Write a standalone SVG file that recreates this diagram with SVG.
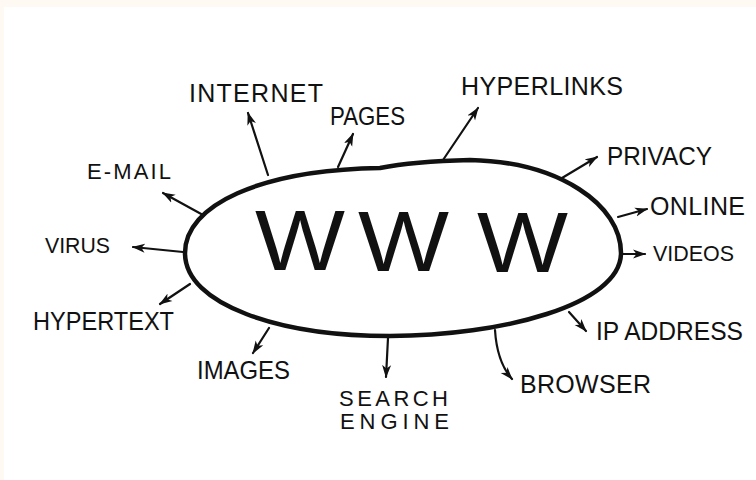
<svg xmlns="http://www.w3.org/2000/svg" width="756" height="480" viewBox="0 0 756 480">
  <style>
    .lbl { font-family: "Liberation Sans", Arial, sans-serif; font-size: 25px; fill: #111; }
    .sm { font-size: 22px; }
    .big { font-family: "Liberation Sans", Arial, sans-serif; font-size: 86px; fill: #111; }
    .conn { fill: none; stroke: #111; stroke-width: 2.2; stroke-linecap: round; }
    .oval { fill: #fff; stroke: #111; stroke-width: 4.5; stroke-linejoin: round; }
  </style>
  <defs>
    <marker id="ah" viewBox="0 0 13 10" refX="12" refY="5" markerWidth="13" markerHeight="10" markerUnits="userSpaceOnUse" orient="auto">
      <path d="M0,0.5 L13,5 L0,9.5 L3.5,5 Z" fill="#111"/>
    </marker>
  </defs>
  <rect x="0" y="0" width="756" height="480" fill="#fff"/>
  <rect x="0" y="0" width="756" height="7" fill="#fff9f3"/>
  <rect x="0" y="0" width="4" height="480" fill="#fff9f3"/>

  <g id="connectors">
    <path class="conn" d="M268,175 L248,113" marker-end="url(#ah)"/>
    <path class="conn" d="M338,167 L353,134" marker-end="url(#ah)"/>
    <path class="conn" d="M443,160 L478,108" marker-end="url(#ah)"/>
    <path class="conn" d="M562,178 L597,157" marker-end="url(#ah)"/>
    <path class="conn" d="M618,217 L647,209" marker-end="url(#ah)"/>
    <path class="conn" d="M622,254 L645,254" marker-end="url(#ah)"/>
    <path class="conn" d="M569,312 L586,331" marker-end="url(#ah)"/>
    <path class="conn" d="M495,330 Q497,362 512,379" marker-end="url(#ah)"/>
    <path class="conn" d="M388,338 L386,377" marker-end="url(#ah)"/>
    <path class="conn" d="M269,328 L253,353" marker-end="url(#ah)"/>
    <path class="conn" d="M190,284 L160,304" marker-end="url(#ah)"/>
    <path class="conn" d="M183,252 L133,247" marker-end="url(#ah)"/>
    <path class="conn" d="M203,215 L163,193" marker-end="url(#ah)"/>
  </g>

  <g id="www">
    <path class="oval" d="M380,168 C400,164 430,161 470,160 C560,162 621,205 621,253 C621,305 500,336 390,336 C280,336 185,305 185,253 C185,205 260,170 380,168 Z"/>
    <text class="big" x="255" y="270" textLength="90" lengthAdjust="spacingAndGlyphs">W</text>
    <text class="big" x="358" y="271" textLength="91" lengthAdjust="spacingAndGlyphs">W</text>
    <text class="big" x="477" y="272" textLength="91" lengthAdjust="spacingAndGlyphs">W</text>
  </g>

  <g id="internet"><text class="lbl" x="189" y="102" textLength="134" lengthAdjust="spacing">INTERNET</text></g>
  <g id="pages"><text class="lbl" x="330" y="125" textLength="75" lengthAdjust="spacingAndGlyphs">PAGES</text></g>
  <g id="hyperlinks"><text class="lbl" x="461" y="95" textLength="162" lengthAdjust="spacing">HYPERLINKS</text></g>
  <g id="privacy"><text class="lbl" x="607" y="165" textLength="105" lengthAdjust="spacingAndGlyphs">PRIVACY</text></g>
  <g id="online"><text class="lbl" x="650" y="215" textLength="95" lengthAdjust="spacing">ONLINE</text></g>
  <g id="videos"><text class="lbl sm" x="653" y="261" textLength="81" lengthAdjust="spacingAndGlyphs">VIDEOS</text></g>
  <g id="ipaddress"><text class="lbl" x="596" y="340" textLength="147" lengthAdjust="spacingAndGlyphs">IP ADDRESS</text></g>
  <g id="browser"><text class="lbl" x="520" y="393" textLength="131" lengthAdjust="spacing">BROWSER</text></g>
  <g id="searchengine">
    <text class="lbl sm" x="339" y="406" textLength="109" lengthAdjust="spacing">SEARCH</text>
    <text class="lbl sm" x="340" y="429" textLength="109" lengthAdjust="spacing">ENGINE</text>
  </g>
  <g id="images"><text class="lbl" x="197" y="379" textLength="93" lengthAdjust="spacingAndGlyphs">IMAGES</text></g>
  <g id="hypertext"><text class="lbl" x="33" y="330" textLength="141" lengthAdjust="spacingAndGlyphs">HYPERTEXT</text></g>
  <g id="virus"><text class="lbl sm" x="45" y="253" textLength="65" lengthAdjust="spacingAndGlyphs">VIRUS</text></g>
  <g id="email"><text class="lbl sm" x="87" y="179" textLength="84" lengthAdjust="spacing">E-MAIL</text></g>
</svg>
